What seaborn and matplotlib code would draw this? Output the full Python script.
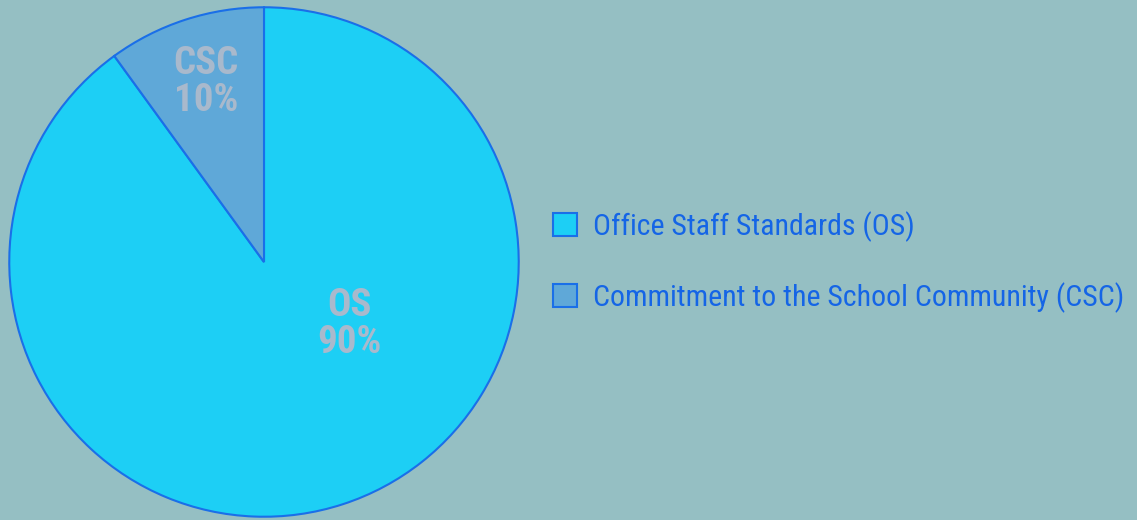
import matplotlib
matplotlib.use("Agg")
import matplotlib.pyplot as plt
import seaborn as sns
from matplotlib.patches import Patch
from matplotlib import font_manager

categories = ["Office Staff Standards (OS)", "Commitment to the School Community (CSC)"]
short_labels = ["OS", "CSC"]
values = [90, 10]
colors = ["#1DCFF5", "#5FA8D8"]

bg = "#95BFC3"
edge = "#1A6FE8"
label_color = "#A9B9CC"
legend_color = "#1565E6"

sns.set_theme(style="white")
avail = {f.name for f in font_manager.fontManager.ttflist}
fams = [f for f in ["Roboto Condensed", "Liberation Sans Narrow", "Open Sans Condensed", "Roboto"] if f in avail]
plt.rcParams["font.family"] = fams + ["DejaVu Sans"]
condensed = fams and fams[0] != "Roboto"

fig = plt.figure(figsize=(11.37, 5.2), dpi=100, facecolor=bg)
ax = fig.add_axes([8/1137, 2/520, 512/1137, 512/520])
ax.set_facecolor(bg)
wedges, _ = ax.pie(values, colors=colors, startangle=90, counterclock=False,
                   radius=1.0, wedgeprops=dict(edgecolor=edge, linewidth=1.5))
ax.set_xlim(-1.005, 1.005)
ax.set_ylim(-1.005, 1.005)
ax.set_aspect("equal")
ax.axis("off")

label_pos = {"OS": (0.336, -0.242), "CSC": (-0.227, 0.707)}
for name, v in zip(short_labels, values):
    x, y = label_pos[name]
    ax.text(x, y, f"{name}\n{v}%", ha="center", va="center", color=label_color,
            fontsize=28 if condensed else 22, fontweight="bold", linespacing=1.0)

fs = 21.5 if condensed else 17
px = fs * 100 / 72
handles = [Patch(facecolor=c, edgecolor=edge, linewidth=1.5) for c in colors]
leg = fig.legend(handles, categories, loc="center left",
                 bbox_to_anchor=(526/1137, 258/520), frameon=False,
                 fontsize=fs, labelspacing=70/px - 1.0,
                 handlelength=24/px, handleheight=24/px,
                 handletextpad=16/px)
for t in leg.get_texts():
    t.set_color(legend_color)

fig.savefig("out.png", dpi=100, facecolor=bg)
